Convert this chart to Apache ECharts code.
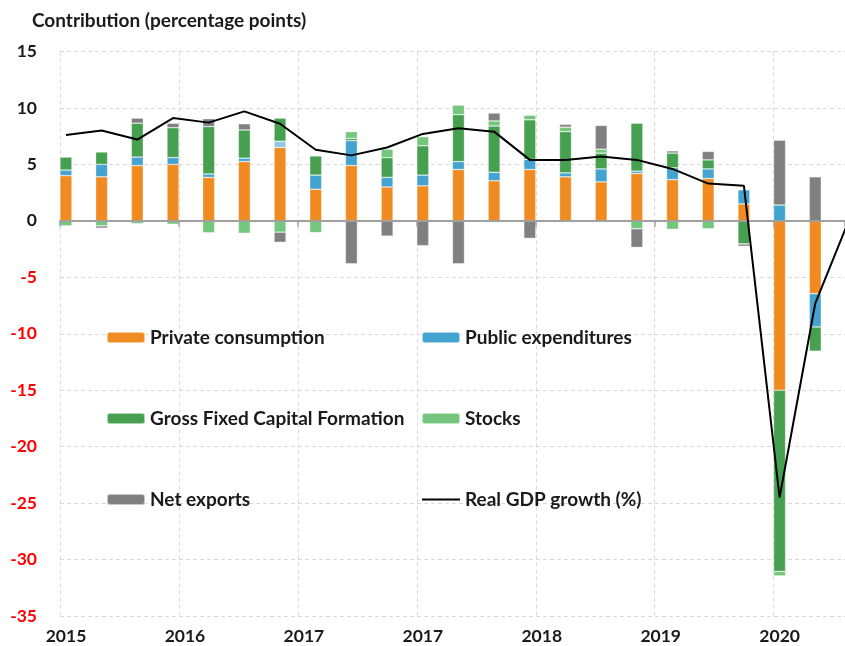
<!DOCTYPE html>
<html>
<head>
<meta charset="utf-8">
<script src="https://cdn.jsdelivr.net/npm/echarts@6/dist/echarts.min.js"></script>
<style>
  html, body { margin: 0; padding: 0; background: #fff; }
  #grafica { width: 845px; height: 646px; }
</style>
</head>
<body>
<div id="grafica"></div>
<script>
// quarters (Indian fiscal quarters), Apr-Jun 2015 to Oct-Dec 2020
let trimestres = ['Q1 2015-16','Q2 2015-16','Q3 2015-16','Q4 2015-16',
  'Q1 2016-17','Q2 2016-17','Q3 2016-17','Q4 2016-17',
  'Q1 2017-18','Q2 2017-18','Q3 2017-18','Q4 2017-18',
  'Q1 2018-19','Q2 2018-19','Q3 2018-19','Q4 2018-19',
  'Q1 2019-20','Q2 2019-20','Q3 2019-20','Q4 2019-20',
  'Q1 2020-21','Q2 2020-21','Q3 2020-21'];

let consumoPrivado = [4.0, 3.9, 4.9, 5.0, 3.85, 5.25, 6.5, 2.8, 4.9, 3.0, 3.1, 4.55, 3.55, 4.55, 3.9, 3.45, 4.2, 3.65, 3.75, 1.5, -15.0, -6.45];
let gastoPublico = [0.5, 1.1, 0.75, 0.6, 0.3, 0.3, 0.55, 1.25, 2.2, 0.85, 0.95, 0.7, 0.75, 0.9, 0.35, 1.15, 0.2, 1.05, 0.85, 1.25, 1.4, -2.95];
let fbcf = [1.15, 1.1, 3.0, 2.65, 4.2, 2.5, 2.05, 1.7, 0.2, 1.75, 2.6, 4.15, 4.1, 3.5, 3.65, 1.4, 4.25, 1.3, 0.8, -2.05, -16.05, -2.15];
let existencias = [-0.45, -0.45, -0.25, -0.3, -1.05, -1.1, -1.0, -1.05, 0.6, 0.75, 0.8, 0.85, 0.45, 0.4, 0.4, 0.35, -0.7, -0.75, -0.7, 0, -0.4, 0];
let exportNetas = [-0.05, -0.2, 0.45, 0.4, 0.7, 0.55, -0.9, 0, -3.8, -1.35, -2.2, -3.8, 0.7, -1.55, 0.25, 2.1, -1.65, 0.2, 0.75, -0.2, 5.75, 3.9];
let pibReal = [7.6, 8.0, 7.2, 9.1, 8.7, 9.7, 8.6, 6.3, 5.8, 6.5, 7.7, 8.2, 7.9, 5.4, 5.4, 5.7, 5.4, 4.6, 3.3, 3.1, -24.5, -7.3, 0.5];

let etiquetasAnio = ['2015', '2016', '2017', '2017', '2018', '2019', '2020'];
let etiquetasY = [-35, -30, -25, -20, -15, -10, -5, 0, 5, 10, 15];

// x in months counted from 1 May 2015, each quarter sits at its middle
function mesDe(i) {
  return 0.5 + 3 * i;
}

// rows are [value, month] so that the value column is the one that stacks
function filas(arreglo) {
  return arreglo.map((v, i) => [v, mesDe(i)]);
}

let fuente = 'Lato';
let textoBase = { fontFamily: fuente, fontWeight: 'bold', fontSize: 19, color: '#1a1a1a' };

let colores = {
  consumo: '#F08B21',
  publico: '#45A3CF',
  fbcf: '#46A050',
  stock: '#74C67C',
  netas: '#808080'
};

function serieBarra(nombre, datos, color) {
  return {
    name: nombre,
    type: 'bar',
    stack: 'total',
    barWidth: 12,
    encode: { x: 1, y: 0 },
    data: datos,
    itemStyle: { color: color, borderColor: 'rgba(255,255,255,0.55)', borderWidth: 0.6 }
  };
}

// one public expenditure bar is drawn lighter in the reference
let datosPublico = filas(gastoPublico).map((p, i) => i === 6 ? { value: p, itemStyle: { color: '#8DC8E3' } } : p);

let chartDom = document.getElementById('grafica');
let myChart = echarts.init(chartDom, null, { renderer: 'canvas' });

let option = {
  animation: false,
  backgroundColor: '#fff',
  title: {
    text: 'Contribution (percentage points)',
    left: 32,
    top: 11,
    padding: 0,
    textStyle: { fontFamily: fuente, fontWeight: 'bold', fontSize: 19, color: '#1a1a1a' }
  },
  grid: { left: 60, right: 0, top: 51.5, bottom: 30, containLabel: false },
  legend: [
    {
      data: ['Private consumption', 'Gross Fixed Capital Formation', 'Net exports'],
      orient: 'vertical', left: 106, top: 328, itemGap: 62, padding: 0,
      itemWidth: 38, itemHeight: 11, textStyle: textoBase, selectedMode: false
    },
    {
      data: ['Public expenditures', 'Stocks',
        { name: 'Real GDP growth (%)', itemStyle: { opacity: 0 } }],
      orient: 'vertical', left: 421, top: 328, itemGap: 62, padding: 0,
      itemWidth: 38, itemHeight: 11, textStyle: textoBase, selectedMode: false
    }
  ],
  xAxis: [
    {
      type: 'value',
      min: 0, max: 66, interval: 10,
      axisLine: { show: false, onZero: false },
      axisTick: { show: false },
      axisLabel: {
        ...textoBase, fontSize: 17.5, margin: 11, padding: [0, 0, 0, 12],
        showMaxLabel: false,
        formatter: (v) => etiquetasAnio[Math.round(v / 10)] || ''
      },
      splitLine: { show: true, lineStyle: { color: '#d9d9d9', type: [4, 3], width: 1 } }
    },
    {
      type: 'value',
      position: 'top',
      min: 0, max: 66, interval: 10,
      z: 5,
      axisLine: { show: true, onZero: true, lineStyle: { color: '#a0a0a0', width: 2 } },
      axisTick: { show: true, inside: true, length: 6, lineStyle: { color: '#a0a0a0', width: 1.5 } },
      axisLabel: { show: false },
      splitLine: { show: false }
    }
  ],
  yAxis: {
    type: 'value',
    min: etiquetasY[0], max: etiquetasY[etiquetasY.length - 1], interval: 5,
    axisLine: { show: false },
    axisTick: { show: false },
    axisLabel: {
      ...textoBase, fontSize: 17.5, margin: 23,
      color: (v) => (v < 0 ? '#FF0000' : '#1a1a1a')
    },
    splitLine: { show: true, lineStyle: { color: '#d9d9d9', type: [4, 3], width: 1 } }
  },
  series: [
    serieBarra('Private consumption', filas(consumoPrivado), colores.consumo),
    serieBarra('Public expenditures', datosPublico, colores.publico),
    serieBarra('Gross Fixed Capital Formation', filas(fbcf), colores.fbcf),
    serieBarra('Stocks', filas(existencias), colores.stock),
    serieBarra('Net exports', filas(exportNetas), colores.netas),
    {
      name: 'Real GDP growth (%)',
      type: 'line',
      encode: { x: 1, y: 0 },
      data: filas(pibReal),
      showSymbol: false,
      symbol: 'none',
      clip: true,
      z: 6,
      lineStyle: { color: '#000', width: 2 },
      itemStyle: { color: '#000' }
    }
  ]
};

myChart.setOption(option);
</script>
</body>
</html>
